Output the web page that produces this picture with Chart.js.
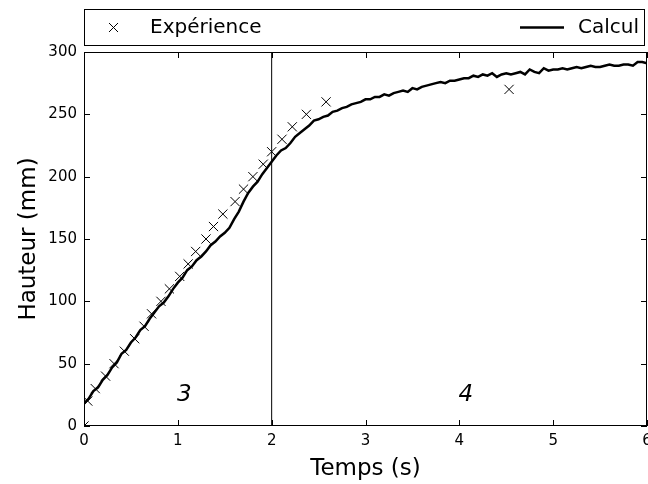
<!DOCTYPE html>
<html>
<head>
<meta charset="utf-8">
<script src="https://cdn.jsdelivr.net/npm/chart.js@4.4.0/dist/chart.umd.min.js"></script>
<style>
    html, body { margin: 0; padding: 0; background: #fff; overflow: hidden; }
    #wrap { width: 648px; height: 484px; }
</style>
</head>
<body>
<div id="wrap"><canvas id="chart" width="648" height="484"></canvas></div>
<script>
// Experimental points (time in s, height in mm)
const expTime = [0, 0.04, 0.12, 0.23, 0.32, 0.43, 0.54, 0.64, 0.72, 0.82, 0.91, 1.02, 1.11, 1.19, 1.30, 1.38,
    1.48, 1.61, 1.70, 1.80, 1.91, 2.00, 2.11, 2.22, 2.37, 2.58, 4.53];
const expHeight = [0, 20, 30, 40, 50, 60, 70, 80, 90, 100, 110, 120, 130, 140, 150, 160,
    170, 180, 190, 200, 210, 220, 230, 240, 250, 260, 270];

// Computed curve
const calcTime = [0.00, 0.05, 0.10, 0.15, 0.20, 0.25, 0.30, 0.35, 0.40, 0.45, 0.50, 0.55, 0.60, 0.65, 0.70, 0.75,
    0.80, 0.85, 0.90, 0.95, 1.00, 1.05, 1.10, 1.15, 1.20, 1.25, 1.30, 1.35, 1.40, 1.45, 1.50, 1.55,
    1.60, 1.65, 1.70, 1.75, 1.80, 1.85, 1.90, 1.95, 2.00, 2.05, 2.10, 2.15, 2.20, 2.25, 2.30, 2.35,
    2.40, 2.45, 2.50, 2.55, 2.60, 2.65, 2.70, 2.75, 2.80, 2.85, 2.90, 2.95, 3.00, 3.05, 3.10, 3.15,
    3.20, 3.25, 3.30, 3.35, 3.40, 3.45, 3.50, 3.55, 3.60, 3.65, 3.70, 3.75, 3.80, 3.85, 3.90, 3.95,
    4.00, 4.05, 4.10, 4.15, 4.20, 4.25, 4.30, 4.35, 4.40, 4.45, 4.50, 4.55, 4.60, 4.65, 4.70, 4.75,
    4.80, 4.85, 4.90, 4.95, 5.00, 5.05, 5.10, 5.15, 5.20, 5.25, 5.30, 5.35, 5.40, 5.45, 5.50, 5.55,
    5.60, 5.65, 5.70, 5.75, 5.80, 5.85, 5.90, 5.95, 6.00];
const calcHeight = [18, 22, 28, 31, 37, 41, 47, 51, 58, 61, 67, 71, 77, 80, 86, 91,
    96, 99, 104, 110, 115, 119, 125, 128, 133, 136, 140, 145, 148, 152, 155, 159,
    166, 172, 180, 187, 192, 196, 202, 207, 212, 217, 221, 223, 227, 232, 235, 238,
    241, 245, 246, 248, 249, 252, 253, 255, 256, 258, 259, 260, 262, 262, 264, 264,
    266, 265, 267, 268, 269, 268, 271, 270, 272, 273, 274, 275, 276, 275, 277, 277,
    278, 279, 279, 281, 280, 282, 281, 283, 280, 282, 283, 282, 283, 284, 282, 286,
    284, 283, 287, 285, 286, 286, 287, 286, 287, 288, 287, 288, 289, 288, 288, 289,
    290, 289, 289, 290, 290, 289, 292, 292, 291];

const xTicks = [0, 1, 2, 3, 4, 5, 6];
const yTicks = [0, 50, 100, 150, 200, 250, 300];

// Phase separation and phase labels
const phaseBoundary = 2;
const phaseLabels = ['3', '4'];
const phaseLabelTime = [1.07, 4.07];
const phaseLabelHeight = [25, 25];

const FONT = "'DejaVu Sans', sans-serif";

// stretch the plot to the right edge (matplotlib lets the last tick label overflow)
const stretchPlugin = {
    id: 'stretch',
    afterLayout(chart) {
        const xs = chart.scales.x;
        const right = chart.width - 1;
        chart.chartArea.right = right;
        chart.chartArea.width = right - chart.chartArea.left;
        xs.right = right;
        xs.width = right - xs.left;
        xs.configure();
    }
};

const framePlugin = {
    id: 'frame',
    afterDatasetsDraw(chart) {
        const ctx = chart.ctx;
        const a = chart.chartArea;
        const xs = chart.scales.x, ys = chart.scales.y;
        ctx.save();
        ctx.strokeStyle = '#000';
        ctx.lineWidth = 1;
        // frame
        ctx.strokeRect(Math.round(a.left) + 0.5, Math.round(a.top) + 0.5,
            Math.round(a.right - a.left) - 1, Math.round(a.bottom - a.top) - 1);
        // inward ticks on all sides
        const tl = 6;
        ctx.beginPath();
        xTicks.forEach(v => {
            const px = Math.round(xs.getPixelForValue(v)) + 0.5;
            ctx.moveTo(px, a.bottom); ctx.lineTo(px, a.bottom - tl);
            ctx.moveTo(px, a.top); ctx.lineTo(px, a.top + tl);
        });
        yTicks.forEach(v => {
            const py = Math.round(ys.getPixelForValue(v)) + 0.5;
            ctx.moveTo(a.left, py); ctx.lineTo(a.left + tl, py);
            ctx.moveTo(a.right, py); ctx.lineTo(a.right - tl, py);
        });
        ctx.stroke();

        // phase labels
        ctx.fillStyle = '#000';
        ctx.font = 'italic 23px ' + FONT;
        ctx.textAlign = 'center';
        ctx.textBaseline = 'middle';
        phaseLabels.forEach((t, i) => {
            ctx.fillText(t, xs.getPixelForValue(phaseLabelTime[i]), ys.getPixelForValue(phaseLabelHeight[i]));
        });

        // legend box above the plot
        const top = 9, bottom = 45;
        ctx.strokeRect(Math.round(a.left) + 0.5, top + 0.5, Math.round(a.right - a.left) - 3, bottom - top);
        const cy = (top + bottom) / 2 + 0.5;
        ctx.beginPath();
        ctx.moveTo(109, cy - 4.5); ctx.lineTo(118, cy + 4.5);
        ctx.moveTo(118, cy - 4.5); ctx.lineTo(109, cy + 4.5);
        ctx.stroke();
        ctx.font = '20px ' + FONT;
        ctx.textAlign = 'left';
        ctx.fillText('Expérience', 150, cy);
        ctx.lineWidth = 2.5;
        ctx.beginPath();
        ctx.moveTo(520, cy); ctx.lineTo(564, cy);
        ctx.stroke();
        ctx.fillText('Calcul', 578, cy);
        ctx.restore();
    }
};

new Chart(document.getElementById('chart'), {
    type: 'scatter',
    data: {
        datasets: [{
            label: 'Calcul',
            data: calcTime.map((t, i) => ({ x: t, y: calcHeight[i] })),
            showLine: true,
            borderColor: '#000',
            borderWidth: 2.5,
            pointRadius: 0,
            tension: 0
        }, {
            label: 'Expérience',
            data: expTime.map((t, i) => ({ x: t, y: expHeight[i] })),
            pointStyle: 'crossRot',
            pointRadius: 6.5,
            borderColor: '#000',
            borderWidth: 1,
            showLine: false
        }, {
            label: 'limite',
            data: [{ x: phaseBoundary, y: 0 }, { x: phaseBoundary, y: 300 }],
            showLine: true,
            borderColor: '#000',
            borderWidth: 1,
            pointRadius: 0
        }]
    },
    options: {
        responsive: false,
        animation: false,
        devicePixelRatio: 1,
        layout: { padding: { top: 52, right: 0, left: 0, bottom: 0 } },
        plugins: { legend: { display: false }, tooltip: { enabled: false } },
        scales: {
            x: {
                type: 'linear', min: 0, max: 6,
                afterBuildTicks: s => { s.ticks = xTicks.map(v => ({ value: v })); },
                afterFit: s => { s.height = 58; },
                grid: { display: false, drawTicks: false },
                border: { display: false },
                ticks: { color: '#000', font: { family: FONT, size: 15 }, padding: 6, maxRotation: 0 },
                title: { display: true, text: 'Temps (s)', color: '#000',
                    font: { family: FONT, size: 23 }, padding: { top: 0, bottom: 1 } }
            },
            y: {
                type: 'linear', min: 0, max: 300,
                afterBuildTicks: s => { s.ticks = yTicks.map(v => ({ value: v })); },
                afterFit: s => { s.width = 84; },
                grid: { display: false, drawTicks: false },
                border: { display: false },
                ticks: { color: '#000', font: { family: FONT, size: 15 }, padding: 7 },
                title: { display: true, text: 'Hauteur (mm)', color: '#000',
                    font: { family: FONT, size: 23 }, padding: { top: 15, bottom: 15 } }
            }
        }
    },
    plugins: [stretchPlugin, framePlugin]
});
</script>
</body>
</html>
